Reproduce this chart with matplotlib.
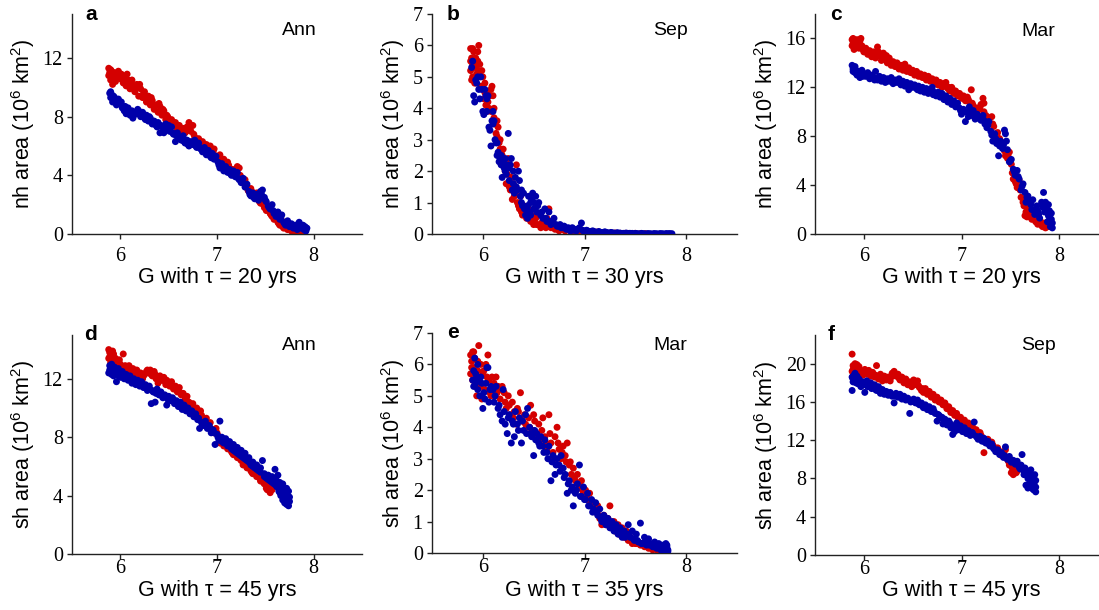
import matplotlib
matplotlib.use("Agg")
import matplotlib.pyplot as plt

plt.rcParams['mathtext.fontset'] = 'custom'
plt.rcParams['mathtext.rm'] = 'Liberation Sans'
plt.rcParams['mathtext.it'] = 'Liberation Sans:italic'
plt.rcParams['mathtext.bf'] = 'Liberation Sans:bold'

RED = '#d40000'
BLUE = '#0000aa'

# ---------------- data (G value, sea-ice area in 10^6 km^2) ----------------
a_red = [(5.88,11.3),(5.88,10.8),(5.89,11.0),(5.90,10.5),(5.91,11.1),(5.92,10.2),(5.93,10.7),(5.94,11.0),(5.95,10.4),(5.96,10.9),(5.98,11.1),(6.00,10.6),(6.01,10.9),(6.03,10.3),(6.05,10.7),(6.06,10.1),(6.08,10.5),(6.10,9.9),(6.12,10.5),(6.13,10.1),(6.15,9.7),(6.17,10.2),(6.19,9.4),(6.21,9.9),(6.23,9.3),(6.25,9.7),(6.27,9.0),(6.29,9.4),(6.31,8.8),(6.33,9.1),(6.35,8.5),(6.37,8.8),(6.39,8.3),(6.41,8.7),(6.43,8.1),(6.45,8.4),(6.47,7.8),(6.49,8.0),(6.51,7.6),(6.53,7.8),(6.55,7.4),(6.57,7.6),(6.59,7.1),(6.61,7.4),(6.63,7.0),(6.65,7.2),(6.67,6.9),(6.69,7.3),(6.71,7.6),(6.73,7.0),(6.75,7.4),(6.77,6.6),(6.79,6.3),(6.81,6.5),(6.83,6.0),(6.85,6.3),(6.87,5.8),(6.89,6.1),(6.91,5.7),(6.93,6.0),(6.95,5.5),(6.97,5.8),(6.99,5.3),(7.01,5.1),(7.03,5.4),(7.05,4.9),(7.07,5.1),(7.09,4.7),(7.11,4.9),(7.13,4.5),(7.15,4.3),(7.17,4.1),(7.19,4.4),(7.21,4.6),(7.23,4.5),(7.25,3.8),(7.27,3.5),(7.29,3.7),(7.31,3.2),(7.33,2.9),(7.35,3.1),(7.37,2.7),(7.39,2.5),(7.41,2.8),(7.43,2.3),(7.45,2.1),(7.47,2.3),(7.49,1.8),(7.51,1.6),(7.53,1.9),(7.55,1.4),(7.57,1.2),(7.59,1.0),(7.61,1.3),(7.63,0.8),(7.65,0.6),(7.67,0.9),(7.69,0.4),(7.71,0.6),(7.73,0.3),(7.75,0.5),(7.77,0.2),(7.79,0.4),(7.81,0.2),(7.83,0.3),(7.85,0.1),(7.87,0.2),
         (5.90,11.2),(5.93,10.5),(5.97,10.8),(6.02,10.5),(6.07,10.9),(6.11,10.3),(6.16,9.9),(6.20,10.2),(6.24,9.6),(6.28,9.2),(6.32,9.3),(6.36,8.7),(6.40,8.9),(6.44,8.5),(6.48,8.1),(6.52,7.7),(6.56,7.5),(6.60,7.3),(6.64,7.1),(6.68,7.0),(6.72,7.2),(6.76,6.8),(6.80,6.4),(6.84,6.2),(6.88,5.9),(6.92,5.9),(6.96,5.6),(7.00,5.2),(7.04,5.1),(7.08,4.8),(7.12,4.7),(7.16,4.4),(7.20,4.3),(7.24,4.0),(7.28,3.6),(7.32,3.0),(7.36,2.9),(7.40,2.6),(7.44,2.2),(7.48,2.0),(7.52,1.7),(7.56,1.3),(7.60,1.1),(7.64,0.7),(7.68,0.5),(7.72,0.4),(7.76,0.3),(7.80,0.3),(7.84,0.2),(7.88,0.1)]
a_blue = [(5.89,9.6),(5.90,9.3),(5.91,9.5),(5.92,9.0),(5.93,9.4),(5.95,9.1),(5.96,8.8),(5.98,9.2),(6.00,8.9),(6.02,8.6),(6.04,8.4),(6.06,8.2),(6.08,8.6),(6.10,8.1),(6.12,8.4),(6.13,7.9),(6.15,8.3),(6.17,8.2),(6.19,8.4),(6.21,8.0),(6.23,8.3),(6.25,7.9),(6.27,8.1),(6.29,7.7),(6.31,7.9),(6.33,7.5),(6.35,7.7),(6.37,7.4),(6.39,7.6),(6.41,6.9),(6.43,7.3),(6.45,6.9),(6.47,7.5),(6.49,7.2),(6.51,7.0),(6.53,7.3),(6.55,6.8),(6.57,6.3),(6.59,6.9),(6.61,6.6),(6.63,6.4),(6.65,6.7),(6.67,6.2),(6.69,6.4),(6.71,6.0),(6.73,6.3),(6.75,6.1),(6.77,6.4),(6.79,5.9),(6.81,6.2),(6.83,5.8),(6.85,5.6),(6.87,5.9),(6.89,5.4),(6.91,5.7),(6.93,5.3),(6.95,5.5),(6.97,5.1),(6.99,5.3),(7.01,4.9),(7.03,4.5),(7.05,4.8),(7.07,4.3),(7.09,4.6),(7.11,4.2),(7.13,4.4),(7.15,4.0),(7.17,4.3),(7.19,3.9),(7.21,4.2),(7.23,3.7),(7.25,3.5),(7.27,3.8),(7.29,3.2),(7.31,3.4),(7.33,2.9),(7.35,2.6),(7.37,2.8),(7.39,2.4),(7.41,2.7),(7.43,2.3),(7.45,2.9),(7.47,3.0),(7.49,2.5),(7.51,2.2),(7.53,1.9),(7.55,1.7),(7.57,2.0),(7.59,1.4),(7.61,1.2),(7.63,1.5),(7.65,1.0),(7.67,1.3),(7.69,0.8),(7.71,0.6),(7.73,0.9),(7.75,0.5),(7.77,0.7),(7.79,0.4),(7.81,0.6),(7.83,0.3),(7.85,0.8),(7.87,0.4),(7.89,0.6),(7.90,0.3),(7.91,0.5),(7.92,0.2),(7.93,0.4),
          (5.90,9.7),(5.94,9.3),(5.97,8.9),(6.01,9.0),(6.05,8.7),(6.09,8.3),(6.14,8.1),(6.18,8.5),(6.22,8.2),(6.26,7.8),(6.30,8.0),(6.34,7.6),(6.38,7.3),(6.42,7.4),(6.46,7.1),(6.50,7.4),(6.54,6.9),(6.58,6.7),(6.62,6.5),(6.66,6.3),(6.70,6.1),(6.74,6.2),(6.78,6.0),(6.82,5.9),(6.86,5.7),(6.90,5.6),(6.94,5.2),(6.98,5.2),(7.02,4.7),(7.06,4.5),(7.10,4.3),(7.14,4.1),(7.18,4.0),(7.22,3.8),(7.26,3.6),(7.30,3.3),(7.34,2.7),(7.38,2.5),(7.42,2.5),(7.46,2.7),(7.50,2.3),(7.54,1.8),(7.58,1.6),(7.62,1.3),(7.66,1.1),(7.70,0.7),(7.74,0.6),(7.78,0.5),(7.82,0.5),(7.86,0.6),(7.90,0.4),(7.92,0.3)]

b_red = [(5.88,5.9),(5.88,5.2),(5.89,4.9),(5.89,5.6),(5.90,5.0),(5.90,5.4),(5.91,5.8),(5.92,4.8),(5.92,5.3),(5.93,5.6),(5.94,5.1),(5.95,5.5),(5.96,6.0),(5.96,5.2),(5.97,5.0),(5.98,4.7),(5.99,5.2),(6.00,4.6),(6.01,4.3),(6.02,4.8),(6.03,4.1),(6.04,3.9),(6.05,4.5),(6.06,4.0),(6.07,4.4),(6.08,3.9),(6.09,4.7),(6.10,4.4),(6.11,4.0),(6.12,3.5),(6.13,3.2),(6.14,3.6),(6.15,3.4),(6.16,2.9),(6.17,3.0),(6.18,2.6),(6.19,2.5),(6.20,2.7),(6.21,2.2),(6.22,2.0),(6.24,1.9),(6.25,2.4),(6.26,1.5),(6.28,1.8),(6.29,1.1),(6.30,1.6),(6.32,1.3),(6.33,2.2),(6.34,1.0),(6.36,0.8),(6.37,1.2),(6.38,0.7),(6.40,0.9),(6.42,0.6),(6.43,0.5),(6.45,0.8),(6.47,0.4),(6.48,0.6),(6.50,0.3),(6.52,0.5),(6.54,0.3),(6.55,0.6),(6.57,0.2),(6.59,0.4),(6.61,0.3),(6.63,0.5),(6.65,0.8),(6.67,0.2),(6.69,0.3),(6.71,0.15),(6.73,0.25),(6.75,0.1),(6.78,0.2),(6.81,0.1),(6.84,0.15),(6.87,0.08),(6.90,0.12),(6.93,0.06),(6.96,0.1),(7.00,0.05),(7.04,0.08),(7.08,0.04),(7.12,0.06),(7.16,0.03),(7.20,0.05),(7.25,0.02),(7.30,0.03),(7.35,0.02),(7.40,0.02),(7.45,0.01),(7.50,0.02),
         (5.88,5.5),(5.90,5.9),(5.91,4.9),(5.93,5.3),(5.95,5.8),(5.97,5.4),(6.00,5.0),(6.02,4.5),(6.05,4.2),(6.08,4.6),(6.11,3.7),(6.14,3.1),(6.17,2.7),(6.20,2.3),(6.23,1.6),(6.27,1.4),(6.31,1.2),(6.35,0.9),(6.39,0.6),(6.44,0.7),(6.49,0.4),(6.53,0.3),(6.58,0.35),(6.62,0.2),(6.66,0.25),(6.70,0.2),(6.74,0.15),(6.80,0.12),(6.86,0.1),(6.92,0.08),(6.98,0.06),(7.06,0.05),(7.14,0.04),(7.22,0.03),(7.32,0.02),(7.42,0.02),(7.55,0.01),(7.60,0.01)]
b_blue = [(5.89,5.3),(5.90,5.5),(5.91,4.4),(5.92,4.2),(5.93,4.9),(5.94,4.8),(5.95,5.0),(5.96,4.6),(5.97,4.3),(5.98,5.0),(5.99,4.6),(6.00,3.9),(6.01,3.8),(6.02,4.6),(6.03,4.4),(6.04,3.9),(6.05,4.4),(6.06,3.4),(6.07,3.3),(6.08,2.8),(6.09,3.6),(6.10,3.5),(6.11,3.6),(6.12,3.0),(6.13,2.9),(6.14,2.5),(6.15,2.6),(6.16,2.3),(6.17,2.4),(6.18,2.2),(6.19,1.8),(6.20,2.3),(6.21,2.1),(6.22,2.4),(6.23,1.9),(6.24,2.2),(6.25,3.2),(6.26,1.7),(6.27,2.2),(6.28,2.4),(6.29,1.4),(6.30,2.0),(6.31,1.3),(6.32,1.8),(6.33,1.5),(6.35,2.0),(6.36,1.7),(6.37,1.2),(6.38,1.0),(6.39,0.9),(6.40,1.3),(6.42,0.6),(6.43,0.8),(6.44,0.5),(6.45,1.2),(6.46,0.7),(6.47,1.0),(6.48,1.1),(6.49,1.3),(6.50,1.0),(6.51,0.8),(6.52,1.2),(6.53,0.7),(6.55,1.0),(6.57,0.6),(6.59,0.5),(6.61,0.8),(6.63,0.4),(6.65,0.7),(6.67,0.3),(6.70,0.5),(6.72,0.3),(6.74,0.25),(6.76,0.3),(6.78,0.2),(6.80,0.25),(6.82,0.15),(6.84,0.2),(6.86,0.1),(6.88,0.2),(6.90,0.15),(6.92,0.1),(6.95,0.2),(6.97,0.35),(6.99,0.1),(7.02,0.12),(7.05,0.08),(7.08,0.1),(7.11,0.06),(7.14,0.08),(7.17,0.05),(7.20,0.07),(7.23,0.04),(7.26,0.05),(7.29,0.03),(7.32,0.04),(7.35,0.03),(7.38,0.02),(7.41,0.03),(7.44,0.02),(7.47,0.02),(7.50,0.02),(7.53,0.01),(7.56,0.02),(7.59,0.01),(7.62,0.01),(7.65,0.01),(7.68,0.01),(7.71,0.01),(7.74,0.01),(7.77,0.01),(7.80,0.01),(7.83,0.01),(7.86,0.01),
          (6.04,4.3),(6.10,3.9),(6.14,2.9),(6.18,2.5),(6.22,2.0),(6.26,2.1),(6.30,1.6),(6.34,1.4),(6.38,1.4),(6.41,0.8),(6.44,0.9),(6.47,0.6),(6.50,0.8),(6.54,0.9),(6.58,0.7),(6.62,0.5),(6.66,0.4),(6.69,0.35),(6.73,0.25),(6.77,0.2),(6.81,0.2),(6.85,0.15),(6.89,0.12),(6.93,0.15),(6.98,0.12),(7.03,0.1),(7.09,0.08),(7.15,0.06),(7.21,0.05),(7.27,0.04),(7.33,0.03),(7.39,0.02),(7.45,0.02),(7.51,0.01),(7.57,0.01),(7.63,0.01),(7.69,0.01),(7.75,0.01),(7.81,0.01),(7.84,0.01)]

c_red = [(5.88,15.9),(5.88,15.4),(5.89,16.0),(5.90,15.1),(5.91,15.7),(5.92,15.3),(5.93,15.9),(5.94,15.5),(5.95,15.2),(5.96,15.8),(5.97,16.0),(5.98,15.4),(6.00,14.9),(6.02,15.2),(6.04,14.7),(6.06,15.0),(6.08,14.5),(6.10,14.9),(6.12,14.4),(6.14,15.3),(6.16,14.6),(6.18,14.2),(6.20,14.8),(6.22,14.3),(6.24,14.0),(6.26,14.4),(6.28,13.8),(6.30,14.1),(6.32,13.7),(6.34,14.0),(6.36,13.5),(6.38,13.8),(6.40,13.4),(6.42,13.9),(6.44,13.3),(6.46,13.6),(6.48,13.2),(6.50,13.4),(6.52,13.0),(6.54,13.3),(6.56,12.9),(6.58,13.1),(6.60,12.8),(6.62,13.0),(6.64,12.6),(6.66,12.9),(6.68,12.5),(6.70,12.7),(6.72,12.4),(6.74,12.6),(6.76,12.2),(6.78,12.4),(6.80,12.0),(6.82,12.3),(6.84,12.4),(6.86,11.9),(6.88,11.7),(6.90,12.0),(6.92,11.5),(6.94,11.7),(6.96,11.3),(6.98,11.5),(7.00,11.1),(7.02,11.3),(7.04,10.9),(7.06,11.2),(7.08,10.8),(7.10,11.8),(7.12,10.5),(7.14,10.1),(7.16,9.8),(7.18,10.2),(7.20,10.6),(7.22,11.1),(7.23,10.7),(7.25,9.7),(7.27,9.4),(7.29,9.1),(7.31,9.6),(7.33,8.8),(7.35,7.9),(7.37,8.3),(7.39,7.8),(7.41,7.4),(7.43,7.0),(7.45,6.4),(7.47,6.2),(7.49,6.7),(7.51,5.7),(7.53,4.5),(7.55,4.3),(7.57,3.8),(7.59,4.4),(7.61,3.0),(7.63,2.6),(7.65,1.5),(7.66,1.8),(7.68,2.2),(7.70,1.4),(7.72,1.2),(7.74,1.6),(7.76,1.0),(7.78,0.8),(7.80,1.1),(7.82,0.7),(7.84,0.9),(7.86,0.5),(7.88,0.6),
         (5.89,15.6),(5.92,15.8),(5.95,15.6),(5.99,15.1),(6.03,15.0),(6.07,14.8),(6.11,14.6),(6.15,14.9),(6.19,14.5),(6.23,14.6),(6.27,14.1),(6.31,13.9),(6.35,13.8),(6.39,13.6),(6.43,13.5),(6.47,13.4),(6.51,13.2),(6.55,13.1),(6.59,12.9),(6.63,12.8),(6.67,12.7),(6.71,12.5),(6.75,12.4),(6.79,12.2),(6.83,12.1),(6.87,12.0),(6.91,11.8),(6.95,11.5),(6.99,11.3),(7.03,11.1),(7.07,11.0),(7.11,10.7),(7.15,10.3),(7.19,10.4),(7.23,10.0),(7.28,9.5),(7.32,9.0),(7.36,8.1),(7.40,7.6),(7.44,6.8),(7.48,6.3),(7.52,5.0),(7.56,4.1),(7.60,3.6),(7.64,2.3),(7.67,1.4),(7.71,1.7),(7.75,1.2),(7.79,0.9),(7.83,0.6),(7.87,0.7)]
c_blue = [(5.88,13.8),(5.89,13.5),(5.90,13.6),(5.91,13.2),(5.92,13.4),(5.93,13.0),(5.94,13.3),(5.96,12.8),(5.98,13.4),(6.00,13.1),(6.02,12.9),(6.04,13.2),(6.06,12.7),(6.08,13.0),(6.10,12.8),(6.12,13.3),(6.14,12.6),(6.16,12.9),(6.18,12.5),(6.20,12.8),(6.22,12.4),(6.24,12.7),(6.26,12.5),(6.28,12.8),(6.30,12.3),(6.32,12.6),(6.34,12.4),(6.36,12.7),(6.38,12.2),(6.40,12.5),(6.42,12.1),(6.44,12.4),(6.46,11.8),(6.48,12.3),(6.50,12.0),(6.52,12.2),(6.54,11.9),(6.56,12.1),(6.58,11.7),(6.60,12.0),(6.62,11.6),(6.64,11.9),(6.66,11.5),(6.68,11.8),(6.70,12.0),(6.72,11.6),(6.74,11.3),(6.76,11.6),(6.78,11.2),(6.80,11.5),(6.82,11.0),(6.84,11.3),(6.86,10.8),(6.88,11.1),(6.90,10.6),(6.92,10.9),(6.94,10.4),(6.96,10.7),(6.98,10.3),(7.00,9.8),(7.02,10.2),(7.04,9.2),(7.06,10.0),(7.08,10.4),(7.10,9.7),(7.12,10.1),(7.14,9.4),(7.16,9.8),(7.18,9.5),(7.20,9.3),(7.22,9.7),(7.24,9.0),(7.26,8.7),(7.28,9.2),(7.30,8.4),(7.32,7.6),(7.34,8.2),(7.36,7.4),(7.38,6.4),(7.40,7.6),(7.42,7.0),(7.44,8.5),(7.45,8.2),(7.47,6.9),(7.49,5.9),(7.51,6.1),(7.53,5.3),(7.55,4.8),(7.57,5.2),(7.59,4.5),(7.61,3.6),(7.63,4.1),(7.65,3.4),(7.66,2.6),(7.68,3.1),(7.70,2.7),(7.72,2.0),(7.73,2.8),(7.75,1.6),(7.77,2.3),(7.78,1.9),(7.80,1.3),(7.82,2.6),(7.84,3.4),(7.85,1.8),(7.87,2.1),(7.88,1.0),(7.89,2.4),(7.90,1.4),(7.91,0.6),(7.92,1.7),(7.93,0.9),(7.93,0.5),
          (5.89,13.3),(5.91,13.7),(5.95,13.1),(5.99,12.9),(6.03,13.0),(6.07,12.9),(6.11,12.6),(6.15,12.8),(6.19,12.7),(6.23,12.5),(6.27,12.6),(6.31,12.4),(6.35,12.5),(6.39,12.3),(6.43,12.2),(6.47,12.1),(6.51,12.1),(6.55,11.8),(6.59,11.9),(6.63,11.7),(6.67,11.7),(6.71,11.4),(6.75,11.5),(6.79,11.3),(6.83,11.1),(6.87,10.9),(6.91,10.7),(6.95,10.5),(6.99,10.1),(7.03,10.0),(7.07,9.6),(7.11,9.9),(7.15,9.6),(7.19,9.4),(7.23,9.3),(7.27,8.9),(7.31,8.1),(7.35,7.8),(7.39,7.2),(7.43,7.3),(7.46,7.6),(7.50,6.0),(7.54,5.1),(7.58,4.7),(7.62,3.9),(7.67,3.0),(7.71,2.4),(7.76,2.0),(7.79,1.6),(7.83,2.2),(7.86,2.6),(7.89,1.5),(7.92,1.2),(7.90,1.9)]

d_red = [(5.88,14.0),(5.88,13.4),(5.89,13.8),(5.90,13.1),(5.91,13.6),(5.92,13.3),(5.93,13.7),(5.94,12.9),(5.95,13.4),(5.97,13.1),(5.99,13.3),(6.01,12.8),(6.03,13.7),(6.05,12.9),(6.07,12.6),(6.09,12.9),(6.11,12.4),(6.13,12.7),(6.15,12.3),(6.17,12.6),(6.19,12.2),(6.21,12.4),(6.23,12.0),(6.25,12.3),(6.27,12.5),(6.29,12.4),(6.31,12.6),(6.33,12.2),(6.35,12.5),(6.37,12.0),(6.39,11.7),(6.41,12.2),(6.43,11.9),(6.45,12.1),(6.47,11.6),(6.49,11.8),(6.51,11.5),(6.53,11.8),(6.55,11.3),(6.57,11.5),(6.59,11.1),(6.61,11.4),(6.63,10.9),(6.65,11.0),(6.67,10.6),(6.69,10.8),(6.71,10.4),(6.73,10.1),(6.75,10.3),(6.77,9.8),(6.79,10.0),(6.81,9.6),(6.83,9.8),(6.85,9.3),(6.87,9.1),(6.89,9.3),(6.91,8.8),(6.93,9.0),(6.95,8.5),(6.97,8.3),(6.99,8.6),(7.01,8.1),(7.03,7.6),(7.05,7.9),(7.07,7.4),(7.09,7.7),(7.11,7.2),(7.13,7.4),(7.15,7.0),(7.17,6.8),(7.19,7.1),(7.21,6.6),(7.23,6.8),(7.25,6.4),(7.27,6.1),(7.29,6.4),(7.31,5.9),(7.33,6.1),(7.35,5.7),(7.37,5.5),(7.39,5.8),(7.41,5.3),(7.43,5.5),(7.45,5.0),(7.47,5.2),(7.49,4.8),(7.51,4.5),(7.53,4.7),(7.55,4.2),(7.57,4.4),
         (5.89,13.5),(5.92,13.9),(5.96,13.2),(6.00,13.0),(6.04,12.7),(6.08,12.7),(6.12,12.5),(6.16,12.4),(6.20,12.1),(6.24,12.2),(6.28,12.6),(6.32,12.3),(6.36,12.3),(6.40,11.9),(6.44,11.9),(6.48,11.9),(6.52,11.6),(6.56,11.4),(6.60,11.3),(6.64,11.0),(6.68,10.7),(6.72,10.3),(6.76,10.0),(6.80,9.8),(6.84,9.5),(6.88,9.2),(6.92,8.9),(6.96,8.4),(7.00,8.3),(7.04,7.8),(7.08,7.5),(7.12,7.3),(7.16,6.9),(7.20,6.8),(7.24,6.5),(7.28,6.2),(7.32,6.0),(7.36,5.6),(7.40,5.5),(7.44,5.2),(7.48,4.9),(7.52,4.4),(7.56,4.5)]
d_blue = [(5.88,12.4),(5.89,12.9),(5.90,12.6),(5.91,13.0),(5.92,12.5),(5.93,12.2),(5.94,12.8),(5.95,12.4),(5.96,11.8),(5.97,12.3),(5.98,12.7),(6.00,12.1),(6.02,12.5),(6.04,12.0),(6.06,12.3),(6.08,11.9),(6.10,12.2),(6.12,11.7),(6.14,12.0),(6.16,11.6),(6.18,11.9),(6.20,11.5),(6.22,11.8),(6.24,11.4),(6.26,11.6),(6.28,11.2),(6.30,11.5),(6.32,10.3),(6.34,11.1),(6.36,10.4),(6.38,11.3),(6.40,10.9),(6.42,11.1),(6.44,10.7),(6.46,10.9),(6.48,10.2),(6.50,10.8),(6.52,10.5),(6.54,10.7),(6.56,10.3),(6.58,10.5),(6.60,10.1),(6.62,10.4),(6.64,9.9),(6.66,10.2),(6.68,9.8),(6.70,10.0),(6.72,9.6),(6.74,9.8),(6.76,9.4),(6.78,9.6),(6.80,9.2),(6.82,8.6),(6.84,9.0),(6.86,8.8),(6.88,9.1),(6.90,8.6),(6.92,8.8),(6.94,8.3),(6.96,8.5),(6.98,7.5),(7.00,8.2),(7.02,7.8),(7.03,9.1),(7.05,8.0),(7.07,7.6),(7.09,7.9),(7.11,7.4),(7.13,7.7),(7.15,7.2),(7.17,7.5),(7.19,7.0),(7.21,7.3),(7.23,6.8),(7.25,7.1),(7.27,6.6),(7.29,6.9),(7.31,6.4),(7.33,6.6),(7.35,6.1),(7.37,6.3),(7.39,5.9),(7.41,6.1),(7.43,5.7),(7.45,5.9),(7.47,6.4),(7.49,5.5),(7.51,5.2),(7.53,5.4),(7.55,5.0),(7.57,5.3),(7.59,4.8),(7.60,5.8),(7.61,5.1),(7.62,4.6),(7.63,5.4),(7.64,4.3),(7.65,4.9),(7.66,4.0),(7.67,4.6),(7.68,3.7),(7.69,4.4),(7.70,3.5),(7.70,4.1),(7.71,3.8),(7.72,4.5),(7.72,3.4),(7.73,4.0),(7.73,3.6),(7.74,4.3),(7.74,3.3),(7.75,3.9),
          (5.89,12.6),(5.91,12.3),(5.94,12.5),(5.98,12.2),(6.01,12.4),(6.05,12.1),(6.09,12.0),(6.13,11.9),(6.17,11.7),(6.21,11.6),(6.25,11.5),(6.29,11.3),(6.33,11.2),(6.37,11.0),(6.41,10.9),(6.45,10.8),(6.49,10.6),(6.53,10.6),(6.57,10.4),(6.61,10.2),(6.65,10.0),(6.69,9.9),(6.73,9.7),(6.77,9.5),(6.81,9.3),(6.85,9.0),(6.89,8.8),(6.93,8.6),(6.97,8.3),(7.01,8.0),(7.05,7.7),(7.09,7.6),(7.13,7.4),(7.17,7.1),(7.21,6.9),(7.25,6.7),(7.29,6.5),(7.33,6.3),(7.37,6.0),(7.41,5.8),(7.45,5.6),(7.49,5.3),(7.53,5.1),(7.57,4.9),(7.61,4.7),(7.65,4.2),(7.69,3.9),(7.71,4.3),(7.73,3.8),(7.75,3.6),(7.68,4.8),(7.66,4.5)]

e_red = [(5.88,6.3),(5.88,5.7),(5.89,6.1),(5.90,5.5),(5.90,6.4),(5.91,5.9),(5.92,6.2),(5.93,5.6),(5.94,5.0),(5.95,5.8),(5.96,6.6),(5.97,5.4),(5.98,6.0),(5.99,4.9),(6.00,5.7),(6.02,5.2),(6.03,6.0),(6.05,6.3),(6.06,5.5),(6.08,5.0),(6.09,5.6),(6.10,5.3),(6.12,5.0),(6.13,5.6),(6.15,5.3),(6.17,4.9),(6.19,5.3),(6.21,5.1),(6.23,4.6),(6.25,5.0),(6.27,4.4),(6.29,4.8),(6.31,4.5),(6.33,4.1),(6.35,4.5),(6.37,5.1),(6.39,4.2),(6.41,4.4),(6.43,4.0),(6.45,4.3),(6.47,4.7),(6.49,3.9),(6.51,4.2),(6.53,3.8),(6.55,4.1),(6.57,3.6),(6.59,4.3),(6.61,3.7),(6.63,3.3),(6.65,4.4),(6.67,3.5),(6.69,3.2),(6.71,3.7),(6.73,4.0),(6.75,3.3),(6.77,3.0),(6.79,3.4),(6.81,3.1),(6.83,3.5),(6.85,2.8),(6.87,2.5),(6.89,2.7),(6.91,2.3),(6.93,2.5),(6.95,2.1),(6.97,2.3),(6.99,1.9),(7.01,2.0),(7.03,1.7),(7.05,1.9),(7.07,1.5),(7.09,1.6),(7.11,1.3),(7.13,1.5),(7.15,1.1),(7.17,0.9),(7.19,1.2),(7.21,0.9),(7.23,1.1),(7.25,1.5),(7.27,0.8),(7.29,1.0),(7.31,0.7),(7.33,0.9),(7.35,0.6),(7.37,0.8),(7.39,0.5),(7.41,0.7),(7.43,0.4),(7.45,0.5),(7.47,0.3),(7.49,0.4),(7.51,0.3),(7.53,0.35),(7.55,0.25),(7.57,0.3),(7.59,0.2),(7.61,0.25),(7.63,0.15),(7.65,0.2),(7.67,0.1),(7.70,0.15),(7.73,0.1),(7.76,0.1),(7.79,0.05),
         (5.89,5.9),(5.91,6.4),(5.93,5.3),(5.95,6.1),(5.98,5.3),(6.01,5.8),(6.04,5.6),(6.07,5.1),(6.11,5.4),(6.14,5.1),(6.18,5.2),(6.22,4.8),(6.26,4.7),(6.30,4.3),(6.34,4.6),(6.38,4.2),(6.42,4.1),(6.46,4.0),(6.50,4.4),(6.54,3.7),(6.58,3.9),(6.62,3.5),(6.66,3.8),(6.70,3.0),(6.74,3.5),(6.78,3.2),(6.82,2.9),(6.86,2.9),(6.90,2.4),(6.94,2.2),(6.98,2.0),(7.02,1.8),(7.06,1.6),(7.10,1.4),(7.14,1.2),(7.18,1.0),(7.22,1.0),(7.26,0.9),(7.30,0.7),(7.34,0.6),(7.38,0.6),(7.42,0.5),(7.46,0.4),(7.50,0.3),(7.54,0.3),(7.58,0.25),(7.62,0.2),(7.66,0.15),(7.71,0.1),(7.75,0.08)]
e_blue = [(5.90,5.5),(5.91,5.8),(5.92,6.2),(5.93,5.4),(5.94,5.6),(5.95,6.0),(5.96,5.5),(5.97,5.0),(5.98,5.6),(6.00,4.6),(6.01,5.1),(6.03,5.4),(6.04,5.9),(6.05,5.9),(6.06,4.8),(6.08,5.3),(6.10,5.2),(6.11,4.8),(6.13,5.3),(6.15,4.6),(6.17,4.4),(6.19,4.2),(6.20,5.2),(6.22,4.1),(6.24,3.8),(6.26,4.4),(6.28,3.5),(6.29,4.2),(6.31,3.7),(6.32,4.5),(6.34,4.1),(6.36,4.3),(6.38,3.5),(6.40,3.9),(6.42,4.4),(6.44,4.6),(6.46,4.0),(6.48,3.7),(6.50,3.1),(6.51,3.9),(6.53,3.8),(6.55,3.5),(6.57,3.7),(6.59,3.4),(6.61,3.6),(6.63,3.2),(6.65,3.4),(6.67,2.3),(6.69,3.1),(6.71,2.5),(6.73,3.0),(6.75,2.8),(6.77,3.1),(6.79,2.7),(6.81,2.5),(6.83,1.9),(6.85,2.3),(6.87,2.0),(6.89,1.5),(6.91,1.9),(6.93,2.2),(6.95,2.8),(6.97,1.8),(6.99,2.1),(7.01,1.7),(7.03,1.9),(7.05,1.5),(7.07,1.7),(7.09,1.4),(7.11,1.6),(7.13,1.2),(7.15,1.4),(7.17,1.0),(7.19,1.2),(7.21,0.9),(7.23,1.1),(7.25,0.8),(7.27,1.0),(7.29,0.7),(7.31,0.9),(7.33,0.6),(7.35,0.8),(7.37,0.5),(7.39,0.7),(7.41,0.6),(7.43,0.9),(7.45,0.5),(7.47,0.7),(7.49,0.4),(7.51,0.6),(7.53,0.35),(7.55,0.95),(7.57,0.3),(7.59,0.5),(7.61,0.25),(7.63,0.45),(7.65,0.3),(7.67,0.2),(7.69,0.35),(7.71,0.15),(7.73,0.3),(7.75,0.1),(7.76,0.25),(7.77,0.05),(7.78,0.2),(7.79,0.1),(7.80,0.3),(7.80,0.05),(7.81,0.2),(7.82,0.1),
          (5.91,5.3),(5.93,5.7),(5.95,5.2),(5.99,5.4),(6.02,4.9),(6.07,5.2),(6.12,5.0),(6.16,4.7),(6.21,4.5),(6.25,4.3),(6.30,4.1),(6.35,3.9),(6.39,4.2),(6.43,3.8),(6.47,3.8),(6.52,3.6),(6.56,3.4),(6.60,3.2),(6.64,3.0),(6.68,2.9),(6.72,2.8),(6.76,2.6),(6.80,2.4),(6.84,2.2),(6.88,2.1),(6.92,2.0),(6.96,1.8),(7.00,1.7),(7.04,1.5),(7.08,1.3),(7.12,1.3),(7.16,1.1),(7.20,1.0),(7.24,0.9),(7.28,0.8),(7.32,0.7),(7.36,0.6),(7.40,0.5),(7.44,0.6),(7.48,0.45),(7.52,0.4),(7.56,0.3),(7.60,0.35),(7.64,0.25),(7.68,0.2),(7.72,0.2),(7.74,0.15),(7.79,0.15),(7.81,0.25),(7.82,0.05)]

f_red = [(5.88,21.0),(5.88,19.2),(5.89,19.8),(5.89,18.7),(5.90,19.5),(5.91,20.0),(5.92,19.1),(5.93,19.6),(5.94,18.9),(5.95,19.7),(5.97,19.2),(5.99,18.8),(6.01,19.4),(6.03,18.9),(6.05,19.3),(6.07,18.7),(6.09,19.1),(6.11,18.6),(6.13,19.8),(6.15,18.4),(6.17,18.9),(6.19,18.2),(6.21,18.7),(6.23,18.3),(6.25,18.6),(6.27,18.2),(6.29,19.0),(6.31,19.2),(6.33,18.7),(6.35,18.9),(6.37,18.3),(6.39,18.6),(6.41,18.0),(6.43,18.4),(6.45,17.8),(6.47,18.1),(6.49,17.6),(6.51,18.3),(6.53,17.9),(6.55,18.2),(6.57,17.5),(6.59,17.2),(6.61,17.0),(6.63,17.4),(6.65,16.8),(6.67,17.1),(6.69,16.5),(6.71,16.8),(6.73,16.2),(6.75,16.5),(6.77,16.0),(6.79,16.2),(6.81,15.7),(6.83,15.9),(6.85,15.3),(6.87,15.5),(6.89,14.9),(6.91,15.1),(6.93,14.6),(6.95,14.8),(6.97,14.2),(6.99,14.4),(7.01,13.9),(7.03,14.1),(7.05,13.6),(7.07,13.8),(7.09,13.3),(7.11,13.5),(7.13,12.9),(7.15,13.1),(7.17,12.6),(7.19,12.8),(7.21,12.3),(7.23,10.7),(7.25,11.9),(7.27,12.1),(7.29,11.6),(7.31,11.8),(7.33,11.3),(7.35,11.0),(7.37,11.2),(7.39,10.7),(7.41,10.4),(7.43,10.6),(7.45,11.0),(7.47,10.0),(7.49,9.4),(7.51,8.6),(7.53,8.4),(7.55,9.1),(7.57,8.8),(7.59,9.3),
         (5.89,19.4),(5.91,19.3),(5.93,19.9),(5.96,19.0),(6.00,19.1),(6.04,19.0),(6.08,18.9),(6.12,18.8),(6.16,18.6),(6.20,18.5),(6.24,18.4),(6.28,18.6),(6.32,18.9),(6.36,18.5),(6.40,18.3),(6.44,18.1),(6.48,17.9),(6.52,17.8),(6.56,17.7),(6.60,17.4),(6.64,17.1),(6.68,16.8),(6.72,16.5),(6.76,16.2),(6.80,15.9),(6.84,15.6),(6.88,15.2),(6.92,14.8),(6.96,14.5),(7.00,14.1),(7.04,13.8),(7.08,13.5),(7.12,13.2),(7.16,12.8),(7.20,12.5),(7.24,12.1),(7.28,11.8),(7.32,11.5),(7.36,11.1),(7.40,10.8),(7.44,10.4),(7.48,9.8),(7.52,9.1),(7.56,8.6)]
f_blue = [(5.88,17.2),(5.88,18.6),(5.89,18.1),(5.90,18.8),(5.91,19.0),(5.92,18.3),(5.93,18.7),(5.94,17.9),(5.95,18.4),(5.97,17.6),(5.99,18.1),(6.01,17.0),(6.03,18.2),(6.05,17.7),(6.07,18.0),(6.09,17.5),(6.11,17.8),(6.13,17.2),(6.15,17.6),(6.17,16.9),(6.19,17.3),(6.21,16.8),(6.23,17.1),(6.25,16.7),(6.27,17.0),(6.29,16.6),(6.31,15.9),(6.33,16.9),(6.35,16.5),(6.37,16.8),(6.39,16.3),(6.41,16.6),(6.43,16.2),(6.45,16.4),(6.47,14.8),(6.49,16.1),(6.51,16.3),(6.53,15.9),(6.55,16.2),(6.57,15.7),(6.59,15.9),(6.61,15.4),(6.63,15.7),(6.65,15.2),(6.67,15.5),(6.69,15.0),(6.71,15.3),(6.73,14.8),(6.75,14.0),(6.77,14.6),(6.79,14.3),(6.81,13.7),(6.83,14.2),(6.85,13.6),(6.87,14.0),(6.89,13.3),(6.91,12.6),(6.93,12.9),(6.95,13.8),(6.97,13.1),(6.99,13.5),(7.01,12.9),(7.03,13.3),(7.05,12.7),(7.07,13.0),(7.09,12.5),(7.11,12.8),(7.13,13.9),(7.15,12.4),(7.17,12.1),(7.19,12.4),(7.21,11.9),(7.23,12.2),(7.25,11.7),(7.27,11.9),(7.29,11.4),(7.31,11.6),(7.33,11.1),(7.35,10.8),(7.37,11.0),(7.39,10.5),(7.41,10.7),(7.43,10.2),(7.45,11.3),(7.47,10.0),(7.49,10.3),(7.51,9.7),(7.53,9.9),(7.55,9.5),(7.57,9.8),(7.59,9.2),(7.61,9.4),(7.62,10.5),(7.63,8.9),(7.64,8.4),(7.65,9.1),(7.66,7.3),(7.67,8.6),(7.68,7.0),(7.69,8.2),(7.70,7.6),(7.71,8.9),(7.72,7.2),(7.73,8.0),(7.74,6.8),(7.75,7.7),(7.75,8.4),(7.76,7.1),(7.76,6.6),
          (5.89,18.4),(5.92,18.0),(5.96,18.2),(6.00,17.8),(6.04,17.6),(6.08,17.4),(6.12,17.3),(6.16,17.1),(6.20,17.0),(6.24,16.9),(6.28,16.8),(6.32,16.6),(6.36,16.6),(6.40,16.4),(6.44,16.3),(6.48,16.0),(6.52,16.0),(6.56,15.8),(6.60,15.6),(6.64,15.5),(6.68,15.2),(6.72,15.0),(6.76,14.7),(6.80,14.4),(6.84,14.0),(6.88,13.8),(6.92,13.5),(6.96,13.3),(7.00,13.2),(7.04,12.9),(7.08,12.8),(7.12,12.6),(7.16,12.3),(7.20,12.1),(7.24,11.8),(7.28,11.6),(7.32,11.3),(7.36,10.9),(7.40,10.6),(7.44,10.4),(7.48,10.1),(7.52,9.8),(7.56,9.6),(7.60,9.0),(7.64,8.8),(7.68,8.0),(7.70,7.2),(7.72,8.3),(7.74,7.4),(7.75,7.0),(7.76,7.8),(7.73,6.9)]

letters = ['a', 'b', 'c', 'd', 'e', 'f']
seasons = ['Ann', 'Sep', 'Mar', 'Ann', 'Mar', 'Sep']
hemis = ['nh', 'nh', 'nh', 'sh', 'sh', 'sh']
taus = [20, 30, 20, 45, 35, 45]
ytops = [15, 7, 18, 15, 7, 23]
yticks = [[0, 4, 8, 12], list(range(0, 8)), [0, 4, 8, 12, 16],
          [0, 4, 8, 12], list(range(0, 8)), [0, 4, 8, 12, 16, 20]]
xticks = [6, 7, 8]
reds = [a_red, b_red, c_red, d_red, e_red, f_red]
blues = [a_blue, b_blue, c_blue, d_blue, e_blue, f_blue]

# ---------------- layout (pixel boxes: left, top, right, bottom) ----------------
W, H = 1099, 610
boxes = [(72, 14, 362, 234), (432, 14, 737, 234), (815, 14, 1108, 234),
         (72, 335, 362, 554), (432, 333, 737, 553), (815, 335, 1108, 555)]
ylab_right = [37, 407, 780, 37, 407, 780]
letter_pos = [(85, 20), (447, 20), (830, 20), (84, 340), (447, 338), (828, 340)]
season_pos = [(282, 35), (653, 35), (1021, 36), (282, 350), (653, 350), (1021, 350)]

fig = plt.figure(figsize=(W / 100, H / 100), dpi=100)
SANS = 'Liberation Sans'
SERIF = 'Liberation Serif'

for i in range(6):
    l, t, r, b = boxes[i]
    ax = fig.add_axes([l / W, 1 - b / H, (r - l) / W, (b - t) / H])
    rx, ry = zip(*reds[i])
    bx, by = zip(*blues[i])
    ax.scatter(rx, ry, s=25, color=RED, edgecolors='none', zorder=2)
    ax.scatter(bx, by, s=25, color=BLUE, edgecolors='none', zorder=3)
    ax.set_xlim(5.5, 8.5)
    ax.set_ylim(0, ytops[i])
    ax.set_xticks(xticks)
    ax.set_yticks(yticks[i])
    for sp in ['top', 'right']:
        ax.spines[sp].set_visible(False)
    for sp in ['left', 'bottom']:
        ax.spines[sp].set_linewidth(1.0)
        ax.spines[sp].set_color('#222222')
    top_row = i < 3
    ax.tick_params(axis='both', direction='out', length=3.6, width=1.0,
                   color='#222222', labelsize=14.5)
    ax.tick_params(axis='x', pad=6.0 if top_row else 0.3)
    ax.tick_params(axis='y', pad=3.0)
    for lab in ax.get_xticklabels() + ax.get_yticklabels():
        lab.set_fontfamily(SERIF)
    ax.set_xlabel('G with \u03c4 = %d yrs' % taus[i], fontsize=15.5, fontfamily=SANS)
    ax.xaxis.set_label_coords(0.5, (b - (267 if top_row else 580)) / (b - t))
    ax.set_ylabel(r'%s area (10$^6$ km$^2$)' % hemis[i], fontsize=15.5, fontfamily=SANS)
    ax.yaxis.set_label_coords((ylab_right[i] - l) / (r - l), 0.5)
    lx, ly = letter_pos[i]
    fig.text(lx / W, 1 - ly / H, letters[i], fontsize=15, fontweight='bold',
             fontfamily=SANS, ha='left', va='baseline')
    sx, sy = season_pos[i]
    fig.text(sx / W, 1 - sy / H, seasons[i], fontsize=14, fontfamily=SANS,
             ha='left', va='baseline')

fig.savefig('out.png', dpi=100)
